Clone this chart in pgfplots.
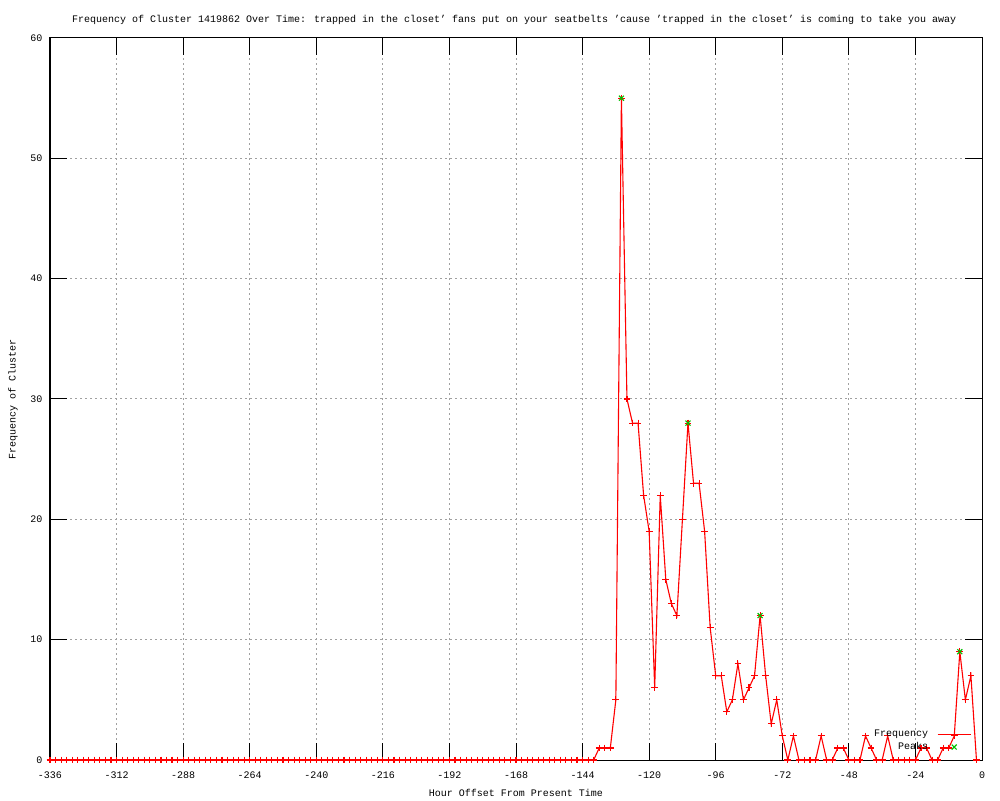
\documentclass[border=0pt]{standalone}
\usepackage{pgfplots}
\pgfplotsset{compat=1.18}
\usepackage{fontspec}
\setmainfont{Liberation Mono}
\definecolor{gpred}{RGB}{255,0,0}
\definecolor{gpgreen}{RGB}{0,192,0}
\definecolor{gpgrid}{RGB}{160,160,160}
\pgfplotsset{
  freqlegend/.style={legend image code/.code={\draw[##1,mark repeat=2,mark phase=2] plot coordinates {(0pt,0pt) (16.5pt,0pt) (33pt,0pt)};}},
  peaklegend/.style={legend image code/.code={\draw[##1] plot coordinates {(16.5pt,0pt)};}},
}
\begin{document}
\begin{tikzpicture}
\useasboundingbox (0,0) rectangle (1000pt,800pt);
\begin{axis}[
  at={(50pt,40pt)}, anchor=south west,
  scale only axis, width=932pt, height=722pt,
  xmin=-336, xmax=0, ymin=0, ymax=60,
  clip=false,
  font=\fontsize{10}{12}\selectfont,
  /pgf/number format/assume math mode=true,
  xtick={-336,-312,-288,-264,-240,-216,-192,-168,-144,-120,-96,-72,-48,-24,0},
  xticklabels={-336,-312,-288,-264,-240,-216,-192,-168,-144,-120,-96,-72,-48,-24,0},
  ytick={0,10,20,30,40,50,60},
  major tick length=17pt,
  tick style={black, line width=1pt},
  axis line style={black, line width=1pt},
  grid=major,
  major grid style={gpgrid, line width=1pt, dash pattern=on 2pt off 3pt},
  xticklabel style={yshift=-8.5pt},
  yticklabel style={xshift=-4pt},
  title={Frequency of Cluster 1419862 Over Time: trapped in the closet' fans put on your seatbelts 'cause 'trapped in the closet' is coming to take you away},
  every axis title/.style={at={(axis description cs:0.498,1.0250)}, anchor=center},
  xlabel={Hour Offset From Present Time},
  every axis x label/.style={at={(axis description cs:0.5,-0.0457)}, anchor=center},
  ylabel={Frequency of Cluster},
  every axis y label/.style={at={(axis description cs:-0.0397,0.5)}, rotate=90, anchor=center},
  legend plot pos=right,
  legend cell align=right,
  legend style={draw=none, fill=none, at={(axis cs:-3.8,2.67)}, anchor=north east,
    inner sep=0pt, row sep=0.5pt, font=\fontsize{10}{12}\selectfont,
    /tikz/every odd column/.append style={column sep=7pt}},
]
\addplot[gpred, line width=1.1pt, mark=+, mark size=3.4pt, mark options={line width=1.1pt}, freqlegend]
coordinates {
(-336,0)(-334,0)(-332,0)(-330,0)(-328,0)(-326,0)(-324,0)(-322,0)(-320,0)(-318,0)
(-316,0)(-314,0)(-312,0)(-310,0)(-308,0)(-306,0)(-304,0)(-302,0)(-300,0)(-298,0)
(-296,0)(-294,0)(-292,0)(-290,0)(-288,0)(-286,0)(-284,0)(-282,0)(-280,0)(-278,0)
(-276,0)(-274,0)(-272,0)(-270,0)(-268,0)(-266,0)(-264,0)(-262,0)(-260,0)(-258,0)
(-256,0)(-254,0)(-252,0)(-250,0)(-248,0)(-246,0)(-244,0)(-242,0)(-240,0)(-238,0)
(-236,0)(-234,0)(-232,0)(-230,0)(-228,0)(-226,0)(-224,0)(-222,0)(-220,0)(-218,0)
(-216,0)(-214,0)(-212,0)(-210,0)(-208,0)(-206,0)(-204,0)(-202,0)(-200,0)(-198,0)
(-196,0)(-194,0)(-192,0)(-190,0)(-188,0)(-186,0)(-184,0)(-182,0)(-180,0)(-178,0)
(-176,0)(-174,0)(-172,0)(-170,0)(-168,0)(-166,0)(-164,0)(-162,0)(-160,0)(-158,0)
(-156,0)(-154,0)(-152,0)(-150,0)(-148,0)(-146,0)(-144,0)(-142,0)(-140,0)
(-138,1)(-136,1)(-134,1)(-132,5)(-130,55)(-128,30)(-126,28)(-124,28)(-122,22)(-120,19)
(-118,6)(-116,22)(-114,15)(-112,13)(-110,12)(-108,20)(-106,28)(-104,23)(-102,23)(-100,19)
(-98,11)(-96,7)(-94,7)(-92,4)(-90,5)(-88,8)(-86,5)(-84,6)(-82,7)(-80,12)
(-78,7)(-76,3)(-74,5)(-72,2)(-70,0)(-68,2)(-66,0)(-64,0)(-62,0)(-60,0)
(-58,2)(-56,0)(-54,0)(-52,1)(-50,1)(-48,0)(-46,0)(-44,0)(-42,2)(-40,1)
(-38,0)(-36,0)(-34,2)(-32,0)(-30,0)(-28,0)(-26,0)(-24,0)(-22,1)(-20,1)
(-18,0)(-16,0)(-14,1)(-12,1)(-10,2)(-8,9)(-6,5)(-4,7)(-2,0)
};
\addlegendentry{Frequency}
\addplot[only marks, gpgreen, mark=x, mark size=3.5pt, mark options={line width=1.1pt}, peaklegend]
coordinates {(-130,55)(-106,28)(-80,12)(-8,9)};
\addlegendentry{Peaks}
\end{axis}
\end{tikzpicture}
\end{document}
